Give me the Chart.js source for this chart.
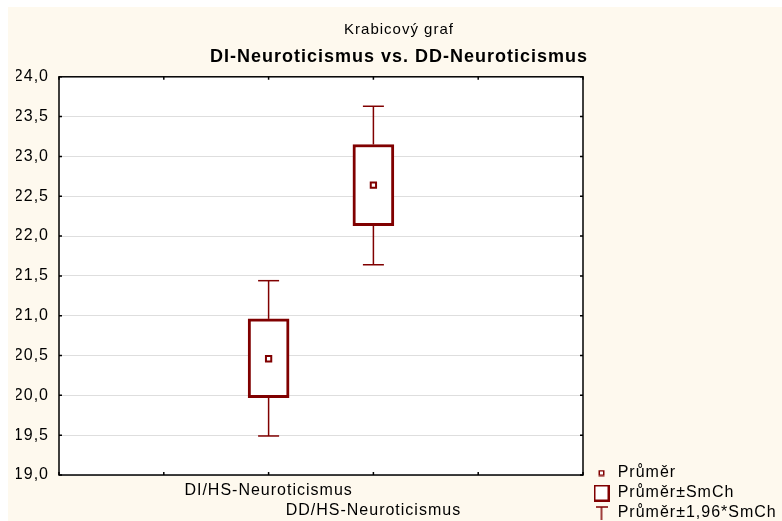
<!DOCTYPE html>
<html><head><meta charset="utf-8">
<script src="https://cdn.jsdelivr.net/npm/chart.js@4.4.1/dist/chart.umd.min.js"></script>
<style>
html,body{margin:0;padding:0;background:#fff;overflow:hidden;width:782px;height:521px;}
#wrap{position:absolute;left:8px;top:7px;width:774px;height:520px;background:#fef9ee;}
canvas{display:block;}
</style></head><body>
<div id="wrap"><canvas id="c"></canvas></div>
<script>
// ---- data ----
const categories = ['DI/HS-Neuroticismus', 'DD/HS-Neuroticismus'];
const means = [20.46, 22.64];
const boxLow = [19.97, 22.13];
const boxHigh = [20.96, 23.15];
const whiskerLow = [19.49, 21.64];
const whiskerHigh = [21.44, 23.63];
const legendLabels = ['Průměr', 'Průměr±SmCh', 'Průměr±1,96*SmCh'];
const titleText = 'Krabicový graf';
const subtitleText = 'DI-Neuroticismus vs. DD-Neuroticismus';
const yMin = 19, yMax = 24, yStep = 0.5;
const xMin = 0, xMax = 5, xOffset = 2;

const RED = '#800000';
const F = "'Liberation Sans', Arial, sans-serif";

function icon(w, h, draw) {
  const c = document.createElement('canvas');
  c.width = w; c.height = h;
  const g = c.getContext('2d');
  g.strokeStyle = RED; g.fillStyle = '#fff';
  draw(g);
  return c;
}
const icons = [
  icon(7, 7, g => { g.lineWidth = 1.5; g.fillRect(1, 1, 5, 5); g.strokeRect(1.25, 1.25, 4.5, 4.5); }),
  icon(16, 17, g => { g.lineWidth = 2; g.fillRect(1, 1, 14, 15); g.strokeRect(1, 1, 14, 15); }),
  icon(12, 14, g => { g.lineWidth = 1.5; g.beginPath(); g.moveTo(0, 1); g.lineTo(12, 1); g.moveTo(6, 1); g.lineTo(6, 14); g.stroke(); })
];

const decor = {
  id: 'decor',
  beforeUpdate(chart) { chart.ctx.letterSpacing = '1px'; },
  beforeLayout(chart) { chart.ctx.letterSpacing = '1px'; },
  beforeDraw(chart) {
    const {ctx, chartArea: a} = chart;
    ctx.letterSpacing = '1px';
    ctx.save();
    ctx.fillStyle = '#fff';
    ctx.fillRect(a.left, a.top, a.width, a.height);
    ctx.restore();
  },
  beforeDatasetsDraw(chart) {
    const {ctx, scales: {x, y}} = chart;
    ctx.save();
    ctx.strokeStyle = RED;
    ctx.lineWidth = 1.5;
    categories.forEach((c, i) => {
      const px = x.getPixelForValue(i + xOffset);
      const half = 10.5;
      [[whiskerLow[i], boxLow[i]], [boxHigh[i], whiskerHigh[i]]].forEach(([v1, v2]) => {
        ctx.beginPath();
        ctx.moveTo(px, y.getPixelForValue(v1));
        ctx.lineTo(px, y.getPixelForValue(v2));
        ctx.stroke();
      });
      [whiskerLow[i], whiskerHigh[i]].forEach(v => {
        const py = y.getPixelForValue(v);
        ctx.beginPath();
        ctx.moveTo(px - half, py);
        ctx.lineTo(px + half, py);
        ctx.stroke();
      });
    });
    ctx.restore();
  },
  afterDatasetsDraw(chart) {
    const {ctx, chartArea: a, scales: {x, y}} = chart;
    ctx.save();
    ctx.strokeStyle = '#000';
    ctx.lineWidth = 1.5;
    ctx.strokeRect(a.left, a.top, a.width, a.height);
    const tl = 3;
    ctx.beginPath();
    y.ticks.forEach(t => {
      const py = y.getPixelForValue(t.value);
      ctx.moveTo(a.left, py); ctx.lineTo(a.left + tl, py);
      ctx.moveTo(a.right, py); ctx.lineTo(a.right - tl, py);
    });
    x.ticks.forEach(t => {
      const px = x.getPixelForValue(t.value);
      ctx.moveTo(px, a.bottom); ctx.lineTo(px, a.bottom - tl);
      ctx.moveTo(px, a.top); ctx.lineTo(px, a.top + tl);
    });
    ctx.stroke();
    ctx.restore();
  }
};

new Chart(document.getElementById('c'), {
  type: 'bar',
  data: {
    datasets: [
      {
        type: 'scatter',
        label: legendLabels[0],
        data: categories.map((c, i) => ({x: i + xOffset, y: means[i]})),
        pointStyle: 'rect', radius: 3.75, borderWidth: 2,
        borderColor: RED, backgroundColor: '#fff', order: 1
      },
      {
        type: 'bar',
        label: legendLabels[1],
        data: categories.map((c, i) => ({x: i + xOffset, y: [boxLow[i], boxHigh[i]]})),
        backgroundColor: '#fff', borderColor: RED, borderWidth: 3,
        borderSkipped: false, barThickness: 41, order: 2
      }
    ]
  },
  options: {
    animation: false,
    responsive: true,
    maintainAspectRatio: false,
    layout: {padding: {left: 8, right: 0, top: 0, bottom: 2}},
    plugins: {
      title: {
        display: true, text: titleText, color: '#000',
        font: {family: F, size: 15, weight: 'normal', lineHeight: 1.2},
        padding: {top: 13.5, bottom: 4}
      },
      subtitle: {
        display: true, text: subtitleText, color: '#000',
        font: {family: F, size: 18, weight: 'bold', lineHeight: 1.2},
        padding: {top: 4.2, bottom: 8.5}
      },
      legend: {
        position: 'right', align: 'end', maxWidth: 192.7,
        labels: {
          usePointStyle: true, pointStyleWidth: 16.4, boxHeight: 15, padding: 4,
          color: '#000', font: {family: F, size: 16},
          generateLabels: () => legendLabels.map((t, i) => ({
            text: t, pointStyle: icons[i], fillStyle: '#fff', strokeStyle: RED,
            lineWidth: 0, hidden: false, fontColor: '#000'
          }))
        }
      },
      tooltip: {enabled: false}
    },
    scales: {
      x: {
        type: 'linear', min: xMin, max: xMax, offset: false,
        grid: {display: false, offset: false, drawTicks: false},
        border: {display: false},
        ticks: {
          stepSize: 1, autoSkip: false, maxRotation: 0, padding: 6.4, color: '#000',
          font: {family: F, size: 16, lineHeight: 1.2},
          callback: (v) => {
            const i = v - xOffset;
            if (Number.isInteger(i) && i >= 0 && i < categories.length) {
              return i % 2 === 0 ? [categories[i], ''] : ['', categories[i]];
            }
            return '';
          }
        },
        afterFit: s => { s.height = 50; }
      },
      y: {
        min: yMin, max: yMax,
        grid: {color: '#dedede', drawTicks: false},
        border: {display: false},
        ticks: {
          stepSize: yStep, padding: 10, color: '#000',
          font: {family: F, size: 16},
          callback: v => Number(v).toFixed(1).replace('.', ',')
        },
        afterFit: s => { s.width = 43; }
      },
      gap: {
        position: 'right', display: true,
        grid: {display: false}, ticks: {display: false}, border: {display: false},
        afterFit: s => { s.width = 6.3; }
      }
    }
  },
  plugins: [decor]
});
</script>
</body></html>
